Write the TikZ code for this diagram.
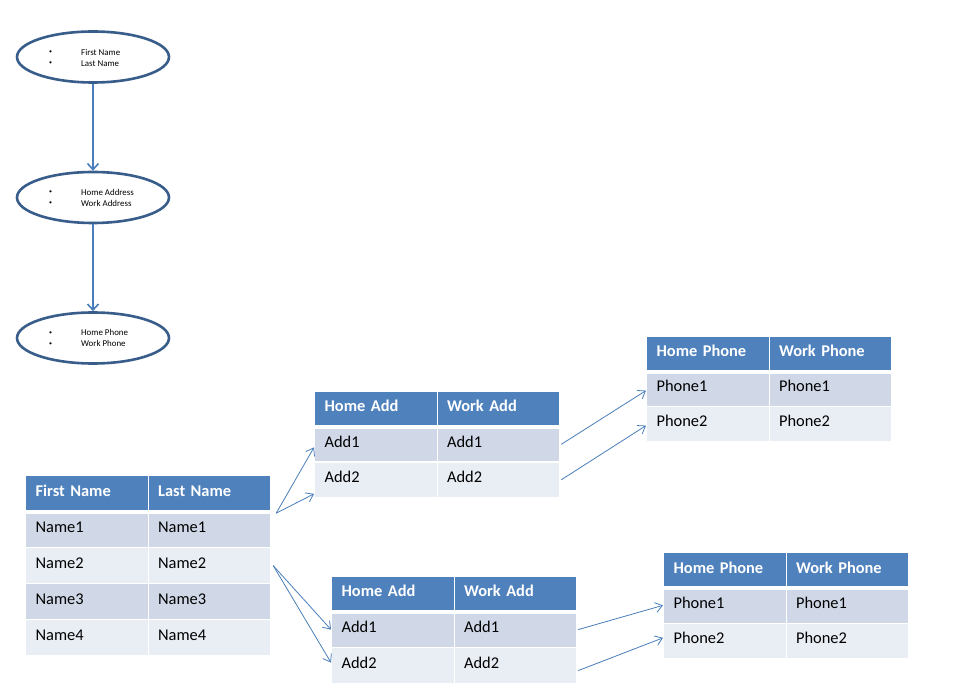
\documentclass[tikz,border=0pt]{standalone}
\usepackage{fontspec}
\setmainfont{Carlito}
\usetikzlibrary{arrows.meta,shapes.geometric}
\definecolor{hdr}{HTML}{4F81BD}
\definecolor{rowA}{HTML}{D0D8E8}
\definecolor{rowB}{HTML}{E9EDF4}
\definecolor{elline}{HTML}{385D8A}
\definecolor{arr}{HTML}{4A7EBB}
\newcommand\trow[8]{%
  \node[#6, minimum height=#5pt] (#1-#2-1) at (#3,#4) {#7};
  \node[#6, minimum height=#5pt] (#1-#2-2) at (#3+122.5,#4) {#8};}
\newcommand\hsep[1]{\draw[white, line width=3.5pt] (#1-h-1.south west) -- (#1-h-2.south east);}
\newcommand\smbul{\makebox[33pt][l]{\hspace{1pt}\raisebox{1.2pt}{\fontsize{6}{6}\selectfont\textbullet}}}
\begin{document}
\begin{tikzpicture}[x=1pt,y=-1pt,
  cellbase/.style={anchor=north west, draw=white, line width=1.2pt, inner xsep=10pt, inner ysep=0pt,
    text width=102.5pt, align=left, text height=10.7pt, text depth=4.9pt},
  hcell/.style={cellbase, fill=hdr, text=white, font=\fontsize{16.4}{19}\selectfont\bfseries},
  ocell/.style={cellbase, fill=rowA, font=\fontsize{16.4}{19}\selectfont},
  ecell/.style={cellbase, fill=rowB, font=\fontsize{16.4}{19}\selectfont},
  ell/.style={ellipse, draw=elline, line width=2.6pt, fill=white, minimum width=152pt, minimum height=51pt, inner sep=0pt},
  eltext/.style={anchor=west, inner sep=0pt, align=left, font=\fontsize{8.9}{11}\selectfont},
  bigarrow/.style={draw=arr, line width=1.6pt, -{Straight Barb[length=6pt,width=11pt]}},
  smallarrow/.style={draw=arr, line width=0.8pt, -{Straight Barb[length=7pt,width=10pt]}}
]
\useasboundingbox (0,0) rectangle (954,692);
\fill[white] (0,0) rectangle (954,692);

% ellipses
\node[ell] (e1) at (93,57) {};
\node[ell] (e2) at (93,197.5) {};
\node[ell] (e3) at (93,338) {};
\node[eltext] (e1t) at (48,57.5) {\smbul First Name\\\smbul Last Name};
\node[eltext] (e2t) at (48,197.5) {\smbul Home Address\\\smbul Work Address};
\node[eltext] (e3t) at (48,338) {\smbul Home Phone\\\smbul Work Phone};
\draw[bigarrow] (e1.south) -- (e2.north);
\draw[bigarrow] (e2.south) -- (e3.north);

% table 1
\trow{a}{h}{25}{475}{36}{hcell}{First Name}{Last Name}
\trow{a}{r1}{25}{511}{36}{ocell}{Name1}{Name1}
\trow{a}{r2}{25}{547}{36}{ecell}{Name2}{Name2}
\trow{a}{r3}{25}{583}{36}{ocell}{Name3}{Name3}
\trow{a}{r4}{25}{619}{36}{ecell}{Name4}{Name4}
\hsep{a}

% table 2
\trow{b}{h}{314}{391}{35}{hcell}{Home Add}{Work Add}
\trow{b}{r1}{314}{426}{35.5}{ocell}{Add1}{Add1}
\trow{b}{r2}{314}{461.5}{35.5}{ecell}{Add2}{Add2}
\hsep{b}

% table 3
\trow{c}{h}{646}{336}{35}{hcell}{Home Phone}{Work Phone}
\trow{c}{r1}{646}{371}{35}{ocell}{Phone1}{Phone1}
\trow{c}{r2}{646}{406}{35}{ecell}{Phone2}{Phone2}
\hsep{c}

% table 4
\trow{d}{h}{331}{576}{35}{hcell}{Home Add}{Work Add}
\trow{d}{r1}{331}{611}{36}{ocell}{Add1}{Add1}
\trow{d}{r2}{331}{647}{36}{ecell}{Add2}{Add2}
\hsep{d}

% table 5
\trow{e}{h}{663}{552}{35}{hcell}{Home Phone}{Work Phone}
\trow{e}{r1}{663}{587}{35.5}{ocell}{Phone1}{Phone1}
\trow{e}{r2}{663}{622.5}{35.5}{ecell}{Phone2}{Phone2}
\hsep{e}

% connectors
\coordinate (s1) at ([xshift=5pt,yshift=-1pt]a-h-2.south east);
\coordinate (s2) at ([xshift=2pt]a-r2-2.east);
\draw[smallarrow] (s1) -- ([yshift=-3pt]b-r1-1.west);
\draw[smallarrow] (s1) -- ([yshift=-14pt]b-r2-1.west);
\draw[smallarrow] (s2) -- (d-r1-1.west);
\draw[smallarrow] (s2) -- ([yshift=3pt]d-r2-1.west);
\draw[smallarrow] ([xshift=1pt]b-r1-2.east) -- ([yshift=-1.5pt]c-r1-1.west);
\draw[smallarrow] ([xshift=1pt]b-r2-2.east) -- ([yshift=-1.5pt]c-r2-1.west);
\draw[smallarrow] ([xshift=1pt]d-r1-2.east) -- (e-r1-1.west);
\draw[smallarrow] ([xshift=1pt,yshift=-5pt]d-r2-2.east) -- ([yshift=3pt]e-r2-1.west);
\end{tikzpicture}
\end{document}
